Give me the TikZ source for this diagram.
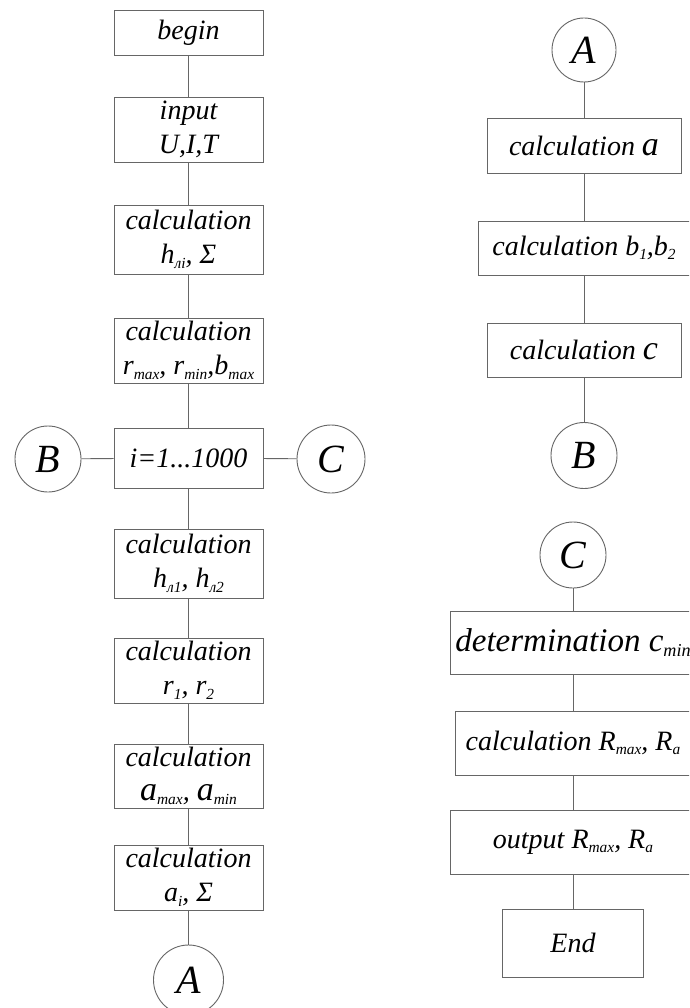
\documentclass[tikz,border=0pt]{standalone}
\usepackage{fontspec}
\setmainfont{Liberation Serif}
\newcommand\sbs[1]{\raisebox{-0.35ex}{\scalebox{0.55}{#1}}}
\newcommand\biglet[1]{{\fontsize{34}{34}\selectfont #1}}
\begin{document}
\begin{tikzpicture}[x=1pt,y=-1pt,
  line/.style={draw=black!60, line width=0.9pt},
  box/.style={line, rectangle, inner sep=0pt, align=center,
    font=\itshape\fontsize{28}{34}\selectfont},
  lbox/.style={box, minimum width=149pt},
  conn/.style={line, circle, inner sep=0pt, font=\itshape\fontsize{40}{40}\selectfont}]
\useasboundingbox (0,0) rectangle (689,1008);
\clip (0,0) rectangle (689,1008);
\fill[white] (0,0) rectangle (689,1008);
% left column
\node[lbox, minimum height=45pt] (begin) at (188.5,32.5) {begin};
\node[lbox, minimum height=65pt] (input) at (188.5,129.5) {input\\U,I,T};
\node[lbox, minimum height=69pt] (ch) at (188.5,239.5) {calculation\\h\sbs{лі}, Σ};
\node[lbox, minimum height=65pt] (cr) at (188.5,350.5) {calculation\\r\sbs{max}, r\sbs{min},b\sbs{max}};
\node[lbox, minimum height=60pt] (loop) at (188.5,458) {i=1...1000};
\node[lbox, minimum height=69pt] (chl) at (188.5,563.5) {calculation\\h\sbs{л1}, h\sbs{л2}};
\node[lbox, minimum height=65pt] (cr12) at (188.5,670.5) {calculation\\r\sbs{1}, r\sbs{2}};
\node[lbox, minimum height=64pt] (cam) at (188.5,776) {calculation\\\biglet{a}\sbs{max}, \biglet{a}\sbs{min}};
\node[lbox, minimum height=65pt] (cai) at (188.5,877.5) {calculation\\a\sbs{i}, Σ};
\node[conn, minimum size=70pt] (A1) at (188.5,980) {A};
\node[conn, minimum size=66pt] (B1) at (48,459) {B};
\node[conn, minimum size=68pt] (C1) at (331,459) {C};
\draw[line] (begin) -- (input);
\draw[line] (input) -- (ch);
\draw[line] (ch) -- (cr);
\draw[line] (cr) -- (loop);
\draw[line] (loop) -- (chl);
\draw[line] (chl) -- (cr12);
\draw[line] (cr12) -- (cam);
\draw[line] (cam) -- (cai);
\draw[line] (cai) -- (A1);
\draw[line] (B1) -- (loop);
\draw[line] (loop) -- (C1);
% right top column
\node[conn, minimum size=64pt] (A2) at (584,50) {A};
\node[box, minimum width=194pt, minimum height=55pt] (ca) at (584,145.5) {calculation \biglet{a}};
\node[box, minimum width=212pt, minimum height=54pt] (cb) at (584,248) {calculation b\sbs{1},b\sbs{2}};
\node[box, minimum width=194pt, minimum height=54pt] (cc) at (584,350) {calculation \biglet{c}};
\node[conn, minimum size=66pt] (B2) at (584,455.5) {B};
\draw[line] (A2) -- (ca);
\draw[line] (ca) -- (cb);
\draw[line] (cb) -- (cc);
\draw[line] (cc) -- (B2);
% right bottom column
\node[conn, minimum size=66pt] (C2) at (573,555) {C};
\node[box, minimum width=246pt, minimum height=63pt, font=\itshape\fontsize{33}{36}\selectfont] (det) at (573,642.5) {determination c\sbs{min}};
\node[box, minimum width=236pt, minimum height=64pt] (cR) at (573,743) {calculation R\sbs{max}, R\sbs{a}};
\node[box, minimum width=246pt, minimum height=64pt] (out) at (573,842) {output R\sbs{max}, R\sbs{a}};
\node[box, minimum width=141pt, minimum height=68pt] (end) at (573,943) {End};
\draw[line] (C2) -- (det);
\draw[line] (det) -- (cR);
\draw[line] (cR) -- (out);
\draw[line] (out) -- (end);
\end{tikzpicture}
\end{document}
